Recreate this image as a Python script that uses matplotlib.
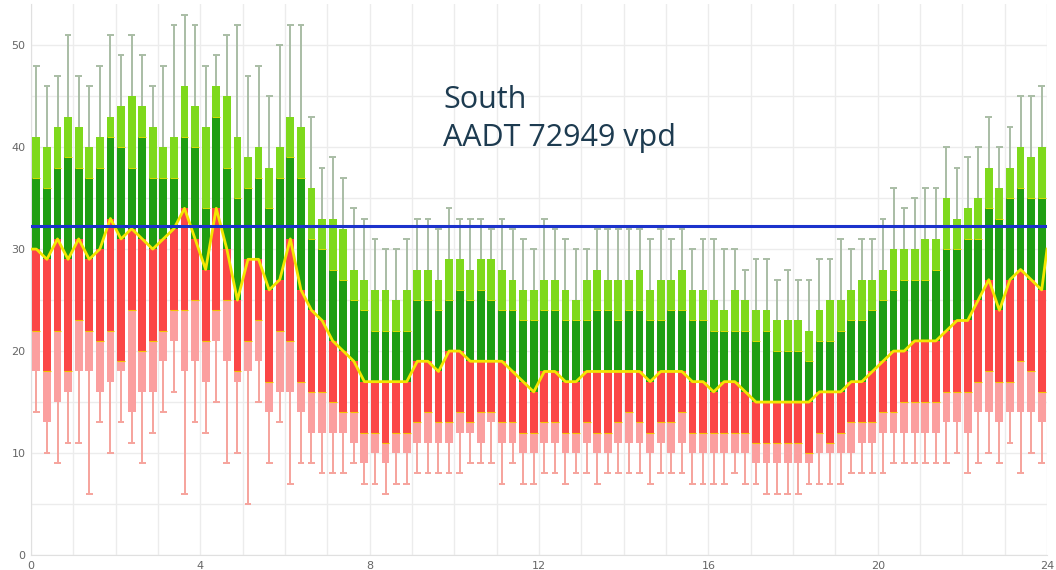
import numpy as np
import matplotlib
matplotlib.use("Agg")
from matplotlib import pyplot as plt

# 96 quarter-hour slots
vmax = [48, 46, 47, 51, 47, 46, 48, 51, 49, 51, 49, 46, 48, 52, 53, 52,
        48, 49, 51, 52, 47, 48, 45, 50, 52, 52, 43, 38, 39, 37, 34, 33,
        31, 30, 30, 31, 33, 33, 32, 34, 33, 33, 33, 32, 33, 32, 31, 30,
        33, 32, 31, 30, 30, 32, 32, 32, 32, 32, 31, 32, 31, 32, 30, 31,
        31, 30, 30, 28, 29, 29, 27, 28, 27, 27, 29, 29, 31, 30, 31, 31,
        33, 36, 34, 35, 36, 36, 40, 38, 39, 40, 43, 40, 42, 45, 45, 46]
p90 = [41, 40, 42, 43, 42, 40, 41, 43, 44, 45, 44, 42, 40, 41, 46, 44,
       42, 46, 45, 41, 39, 40, 38, 40, 43, 42, 36, 33, 33, 32, 28, 27,
       26, 26, 25, 26, 28, 28, 27, 29, 29, 28, 29, 29, 28, 27, 26, 26,
       27, 27, 26, 25, 27, 28, 27, 27, 27, 28, 26, 27, 27, 28, 26, 26,
       25, 24, 26, 25, 24, 24, 23, 23, 23, 22, 24, 25, 25, 26, 27, 27,
       28, 30, 30, 30, 31, 31, 35, 33, 34, 35, 38, 36, 38, 40, 39, 40]
q3 = [37, 36, 38, 39, 38, 37, 38, 41, 40, 38, 41, 37, 37, 37, 41, 40,
      34, 43, 38, 35, 36, 37, 34, 37, 39, 37, 31, 30, 28, 27, 25, 24,
      22, 22, 22, 22, 25, 25, 24, 25, 26, 25, 26, 25, 24, 24, 23, 23,
      24, 24, 23, 23, 23, 24, 24, 23, 24, 24, 23, 23, 24, 24, 23, 23,
      22, 22, 22, 22, 21, 22, 20, 20, 20, 19, 21, 21, 22, 23, 23, 24,
      25, 26, 27, 27, 27, 28, 30, 30, 31, 31, 34, 33, 35, 36, 35, 35]
median = [30, 29, 31, 29, 31, 29, 30, 33, 31, 32, 31, 30, 31, 32, 34, 31,
          28, 34, 30, 25, 29, 29, 26, 27, 31, 26, 24, 23, 21, 20, 19, 17,
          17, 17, 17, 17, 19, 19, 18, 20, 20, 19, 19, 19, 19, 18, 17, 16,
          18, 18, 17, 17, 18, 18, 18, 18, 18, 18, 17, 18, 18, 18, 17, 17,
          16, 17, 17, 16, 15, 15, 15, 15, 15, 15, 16, 16, 16, 17, 17, 18,
          19, 20, 20, 21, 21, 21, 22, 23, 23, 25, 27, 24, 27, 28, 27, 26]
q1 = [22, 18, 22, 18, 23, 22, 21, 22, 19, 24, 20, 21, 22, 24, 24, 25,
      21, 24, 25, 18, 21, 23, 17, 22, 21, 17, 16, 16, 15, 14, 14, 12,
      12, 11, 12, 12, 13, 14, 13, 13, 14, 13, 14, 14, 13, 13, 12, 12,
      13, 13, 12, 12, 13, 12, 12, 13, 14, 13, 12, 13, 13, 14, 12, 12,
      12, 12, 12, 12, 11, 11, 11, 11, 11, 10, 12, 11, 12, 13, 13, 13,
      14, 14, 15, 15, 15, 15, 16, 16, 16, 17, 18, 17, 17, 19, 18, 16]
p10 = [18, 13, 15, 16, 18, 18, 16, 17, 18, 14, 16, 16, 19, 21, 18, 19,
       17, 21, 19, 17, 18, 19, 14, 16, 16, 14, 12, 12, 12, 12, 11, 9,
       10, 9, 10, 10, 11, 11, 11, 11, 12, 12, 11, 13, 11, 11, 10, 10,
       11, 11, 10, 10, 11, 10, 10, 11, 11, 11, 10, 11, 10, 11, 10, 10,
       10, 10, 10, 10, 9, 9, 9, 9, 9, 9, 10, 10, 10, 10, 11, 11,
       12, 12, 12, 12, 12, 12, 13, 13, 12, 14, 14, 13, 14, 14, 14, 13]
vmin = [14, 10, 9, 11, 11, 6, 13, 10, 13, 11, 9, 12, 14, 16, 6, 13,
        12, 15, 9, 10, 5, 15, 9, 13, 7, 9, 9, 8, 8, 8, 9, 7,
        7, 6, 7, 7, 8, 8, 8, 8, 8, 9, 9, 9, 7, 9, 7, 7,
        8, 8, 7, 8, 8, 7, 8, 8, 8, 8, 7, 8, 8, 8, 7, 7,
        7, 7, 8, 7, 7, 6, 6, 6, 6, 7, 7, 7, 7, 8, 8, 8,
        8, 9, 9, 9, 9, 9, 9, 10, 8, 9, 10, 9, 11, 8, 10, 9]
threshold = 32.3
title_lines = ["South", "AADT 72949 vpd"]


def main():
    vmax_a = np.array(vmax)
    p90_a = np.array(p90)
    q3_a = np.array(q3)
    med_a = np.array(median)
    q1_a = np.array(q1)
    p10_a = np.array(p10)
    vmin_a = np.array(vmin)

    n = len(median)
    x = np.arange(n) * 0.25 + 0.125
    w = 0.185
    cap = 0.08

    fig = plt.figure(figsize=(10.56, 5.70), dpi=100)
    ax = fig.add_axes([0.0294, 0.0263, 0.9621, 0.966])

    # whiskers
    ax.vlines(x, vmin_a, p10_a, color="#f6a39c", lw=1.4, zorder=2)
    ax.hlines(vmin_a, x - cap, x + cap, color="#f6a39c", lw=1.4, zorder=2)
    ax.vlines(x, p90_a, vmax_a, color="#a9bda5", lw=1.4, zorder=2)
    ax.hlines(vmax_a, x - cap, x + cap, color="#a9bda5", lw=1.4, zorder=2)

    # stacked boxes
    ax.bar(x, q1_a - p10_a, bottom=p10_a, width=w, color="#fb9f9f", lw=0, zorder=3)
    ax.bar(x, med_a - q1_a, bottom=q1_a, width=w, color="#fb4646", lw=0, zorder=3)
    ax.bar(x, q3_a - med_a, bottom=med_a, width=w, color="#1f9e12", lw=0, zorder=3)
    ax.bar(x, p90_a - q3_a, bottom=q3_a, width=w, color="#7ed91c", lw=0, zorder=3)

    # thin separators
    ax.hlines(q1_a, x - w / 2, x + w / 2, color="#f5c400", lw=0.8, zorder=4)
    ax.hlines(q3_a, x - w / 2, x + w / 2, color="#d8dc00", lw=0.7, zorder=4)

    # median line, wrapping round midnight
    xl = np.concatenate([[0.0], x, [24.0]])
    yl = np.concatenate([[med_a[0]], med_a, [med_a[0]]])
    ax.plot(xl, yl, color="#f3e600", lw=2.0, solid_joinstyle="round", zorder=5)

    ax.axhline(threshold, color="#1c33cc", lw=2.2, zorder=6)

    ax.text(9.73, 43.8, title_lines[0], fontsize=22, color="#1d3b50",
            family="Open Sans", va="baseline", zorder=7)
    ax.text(9.73, 40.1, title_lines[1], fontsize=22, color="#1d3b50",
            family="Open Sans", va="baseline", zorder=7)

    ax.set_xlim(0, 24)
    ax.set_ylim(0, 54)
    ax.set_xticks(np.arange(0, 25, 4))
    ax.set_xticks(np.arange(0, 25, 1), minor=True)
    ax.set_yticks(np.arange(0, 51, 10))
    ax.set_yticks(np.arange(0, 54, 5), minor=True)
    ax.grid(which="both", color="#ececec", lw=1, zorder=0)
    ax.set_axisbelow(True)
    ax.tick_params(which="both", length=0, labelsize=8, colors="#666666", pad=4)
    for s in ["top", "right"]:
        ax.spines[s].set_visible(False)
    for s in ["left", "bottom"]:
        ax.spines[s].set_color("#e0e0e0")

    fig.savefig("out.png", dpi=100)


if __name__ == '__main__':
    main()
